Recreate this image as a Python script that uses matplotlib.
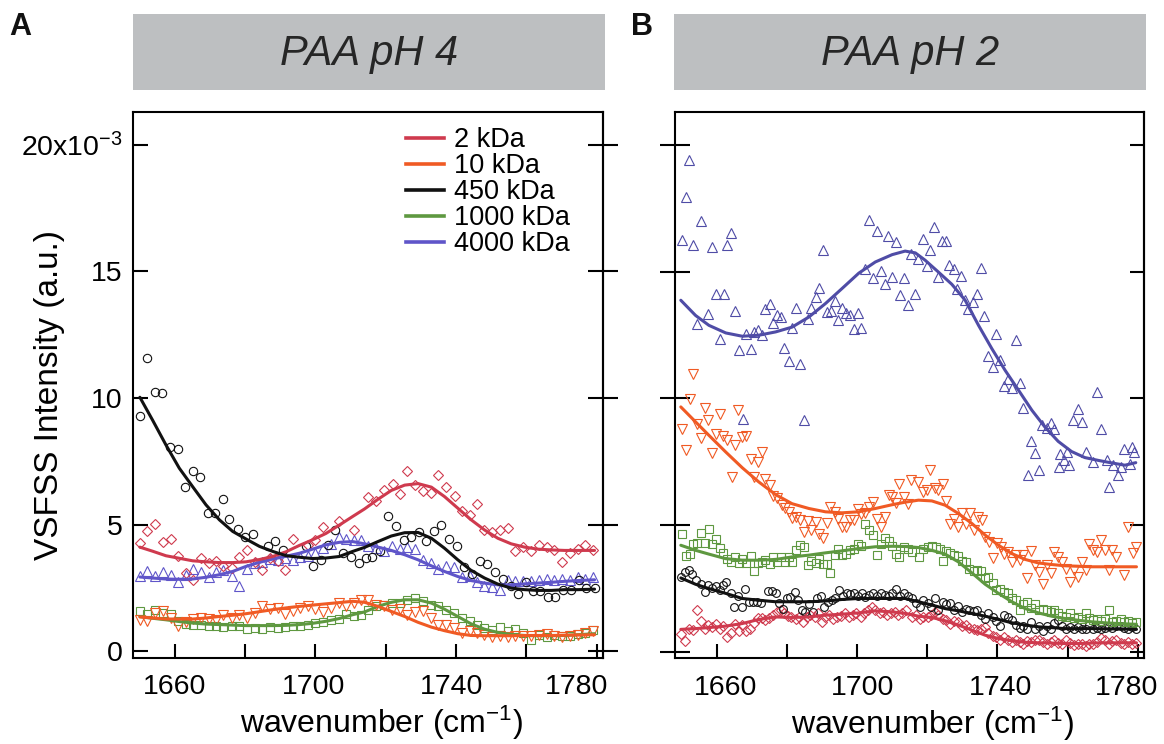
import matplotlib
matplotlib.use("Agg")
import matplotlib.pyplot as plt
import matplotlib.transforms as mtransforms
from matplotlib.patches import Rectangle
from matplotlib.lines import Line2D

plt.rcParams['font.family'] = ['Liberation Sans', 'DejaVu Sans']
plt.rcParams['mathtext.default'] = 'regular'

# ---------------- labels ----------------
panel_titles = ["PAA pH 4", "PAA pH 2"]
panel_letters = ["A", "B"]
series_labels = ["2 kDa", "10 kDa", "450 kDa", "1000 kDa", "4000 kDa"]
x_ticks = [1660, 1700, 1740, 1780]
x_minor_ticks = [1680, 1720, 1760]
y_ticks = [0, 5, 10, 15, 20]
y_tick_labels = ["0", "5", "10", "15", r"20x10$^{-3}$"]

# ---------------- Panel A (pH 4), intensity in units of 1e-3 ----------------
a_wn = [1650.1, 1652.2, 1654.3, 1656.6, 1658.9, 1660.9, 1663.2, 1665.3, 1667.5, 1669.7,
        1671.8, 1673.8, 1676.2, 1678.4, 1680.5, 1682.7, 1684.8, 1687.1, 1689.3, 1691.5,
        1693.6, 1695.7, 1697.8, 1700.0, 1702.3, 1704.5, 1706.6, 1708.7, 1710.9, 1713.1,
        1715.1, 1717.3, 1719.5, 1721.8, 1724.0, 1726.1, 1728.4, 1730.6, 1732.8, 1735.0,
        1737.2, 1739.4, 1741.7, 1743.9, 1746.0, 1748.1, 1750.3, 1752.5, 1754.8, 1756.8,
        1759.1, 1761.4, 1763.5, 1765.8, 1768.0, 1770.2, 1772.4, 1774.7, 1776.8, 1779.0]

a_2k_wn = [1650.1, 1652.2, 1654.3, 1656.6, 1658.9, 1660.9, 1663.2, 1665.3, 1667.5, 1669.7,
           1671.8, 1673.8, 1676.2, 1678.4, 1680.5, 1682.7, 1684.8, 1687.1, 1689.3, 1691.5,
           1693.6, 1697.8, 1700.0, 1702.3, 1706.6, 1710.9, 1715.1, 1717.3, 1719.5, 1722.1,
           1724.2, 1726.1, 1728.4, 1730.6, 1732.8, 1735.0, 1737.2, 1739.6, 1741.7, 1743.9,
           1746.0, 1748.1, 1750.3, 1752.5, 1754.9, 1756.8, 1759.1, 1761.4, 1763.5, 1765.8,
           1768.0, 1770.2, 1772.4, 1774.7, 1776.8, 1779.0]
a_2k = [4.29, 4.73, 5.03, 4.33, 4.42, 3.77, 3.08, 2.82, 3.68, 3.50,
        3.58, 3.35, 3.28, 3.71, 3.98, 3.54, 3.22, 3.68, 3.58, 3.22,
        4.42, 4.20, 4.40, 4.92, 5.16, 4.79, 6.11, 5.94, 6.37, 6.61,
        6.21, 7.12, 6.57, 6.31, 6.24, 6.96, 6.50, 6.13, 5.52, 5.36,
        5.81, 4.79, 4.70, 4.79, 4.86, 3.94, 4.11, 3.94, 4.20, 4.11,
        3.98, 3.54, 3.87, 4.03, 4.20, 4.00]

a_450k_wn = [1650.1, 1652.2, 1654.3, 1656.4, 1658.7, 1660.9, 1662.9, 1665.2, 1667.3, 1669.4,
             1671.6, 1673.6, 1675.5, 1677.9, 1680.0, 1682.2, 1686.4, 1688.6, 1690.8, 1697.3,
             1699.3, 1701.5, 1703.6, 1705.7, 1707.8, 1710.1, 1712.3, 1714.4, 1716.1, 1718.5,
             1720.6, 1723.0, 1725.2, 1727.3, 1729.5, 1731.5, 1733.7, 1735.8, 1738.0, 1740.2,
             1742.2, 1744.5, 1746.7, 1748.9, 1751.2, 1753.3, 1755.5, 1757.6, 1759.8, 1761.9,
             1764.0, 1766.1, 1768.2, 1770.5, 1772.8, 1774.9, 1777.0, 1779.4]
a_450k = [9.29, 11.60, 10.22, 10.18, 8.05, 7.98, 6.48, 7.13, 6.90, 5.45,
          5.45, 6.00, 5.23, 4.82, 4.50, 4.64, 4.14, 4.37, 4.00, 4.14,
          3.37, 3.61, 4.20, 4.79, 3.87, 3.74, 3.50, 3.68, 3.74, 3.94,
          5.35, 4.95, 4.40, 4.53, 4.69, 4.36, 4.75, 4.98, 4.42, 4.14,
          3.31, 3.04, 3.58, 3.45, 3.11, 2.85, 2.56, 2.27, 2.75, 2.36,
          2.36, 2.14, 2.14, 2.40, 2.43, 2.82, 2.49, 2.49]

a_10k = [1.24, 1.18, 1.51, 1.57, 1.31, 1.01, 1.14, 1.27, 1.31, 1.27,
         1.24, 1.44, 1.31, 1.44, 1.31, 1.51, 1.77, 1.66, 1.70, 1.48,
         1.57, 1.70, 1.77, 1.66, 1.53, 1.70, 1.90, 1.77, 1.90, 2.03,
         2.03, 1.83, 1.77, 1.61, 1.66, 1.44, 1.53, 1.57, 1.31, 1.05,
         1.05, 0.91, 0.72, 0.78, 0.72, 0.65, 0.55, 0.59, 0.55, 0.59,
         0.61, 0.59, 0.65, 0.69, 0.59, 0.55, 0.59, 0.65, 0.72, 0.78]

a_1000k = [1.57, 1.48, 1.61, 1.51, 1.48, 1.18, 1.08, 1.05, 1.05, 0.98,
           1.01, 0.95, 1.01, 0.98, 0.87, 0.91, 0.87, 0.95, 0.91, 0.95,
           0.98, 1.01, 1.05, 1.11, 1.14, 1.22, 1.27, 1.48, 1.37, 1.44,
           1.64, 1.77, 1.83, 1.90, 1.90, 2.03, 2.10, 1.97, 1.83, 1.77,
           1.61, 1.51, 1.31, 1.18, 1.05, 0.91, 0.85, 0.95, 0.78, 0.87,
           0.72, 0.45, 0.65, 0.55, 0.65, 0.61, 0.59, 0.69, 0.72, 0.82]

a_4000k = [2.98, 3.15, 2.98, 3.11, 3.02, 2.73, 3.02, 3.24, 3.11, 2.93,
           3.12, 3.22, 2.98, 2.58, 3.24, 3.48, 3.54, 3.64, 3.61, 3.68,
           3.61, 3.74, 3.77, 3.87, 4.07, 4.24, 4.50, 4.44, 4.40, 4.40,
           4.17, 4.07, 3.94, 4.14, 4.03, 4.11, 4.03, 3.61, 3.50, 3.24,
           3.35, 3.32, 2.93, 2.98, 2.72, 2.58, 2.53, 2.40, 2.82, 2.76,
           2.76, 2.79, 2.82, 2.85, 2.82, 2.85, 2.82, 2.93, 2.85, 2.93]

# fitted curves, panel A
a_fit_wn = [1650.1, 1653.7, 1657.5, 1661.3, 1665.1, 1668.9, 1672.7, 1676.5, 1680.3, 1684.1,
            1687.9, 1691.7, 1695.5, 1699.2, 1703.0, 1706.8, 1710.6, 1714.0, 1717.8, 1721.6,
            1725.4, 1729.2, 1733.0, 1736.7, 1740.5, 1744.3, 1748.1, 1751.9, 1755.7, 1759.5,
            1763.3, 1767.1, 1770.9, 1774.7, 1779.4]
a_fit_2k = [4.11, 3.95, 3.77, 3.67, 3.57, 3.53, 3.50, 3.50, 3.53, 3.62,
            3.74, 3.93, 4.18, 4.40, 4.65, 4.98, 5.32, 5.62, 6.00, 6.35,
            6.56, 6.62, 6.48, 6.11, 5.65, 5.19, 4.79, 4.46, 4.24, 4.11,
            4.03, 4.00, 3.98, 3.98, 3.98]
a_fit_10k = [1.35, 1.31, 1.27, 1.27, 1.27, 1.31, 1.37, 1.42, 1.48, 1.56,
             1.64, 1.71, 1.77, 1.82, 1.87, 1.92, 1.97, 1.93, 1.77, 1.57,
             1.37, 1.14, 0.95, 0.81, 0.69, 0.62, 0.61, 0.61, 0.61, 0.62,
             0.62, 0.62, 0.63, 0.64, 0.65]
a_fit_450k = [10.03, 9.13, 8.15, 7.23, 6.50, 5.78, 5.19, 4.73, 4.43, 4.14,
              3.94, 3.77, 3.71, 3.66, 3.68, 3.74, 3.94, 4.10, 4.33, 4.55,
              4.68, 4.69, 4.46, 4.07, 3.61, 3.19, 2.89, 2.65, 2.49, 2.43,
              2.40, 2.40, 2.43, 2.43, 2.45]
a_fit_1000k = [1.37, 1.30, 1.24, 1.17, 1.11, 1.07, 1.05, 1.03, 1.01, 1.01,
               1.01, 1.02, 1.05, 1.10, 1.18, 1.29, 1.44, 1.55, 1.77, 1.93,
               2.03, 2.03, 1.90, 1.66, 1.37, 1.08, 0.87, 0.74, 0.66, 0.62,
               0.61, 0.61, 0.62, 0.65, 0.69]
a_fit_4000k = [2.93, 2.89, 2.85, 2.84, 2.85, 2.92, 3.02, 3.15, 3.35, 3.51,
               3.64, 3.75, 3.87, 4.03, 4.20, 4.30, 4.33, 4.24, 4.11, 3.98,
               3.81, 3.61, 3.37, 3.15, 2.95, 2.79, 2.69, 2.62, 2.62, 2.66,
               2.69, 2.72, 2.76, 2.79, 2.82]

# ---------------- Panel B (pH 2) ----------------
b_left_wn = [1649.8, 1651.0, 1652.1, 1653.3, 1654.4, 1655.5, 1656.6, 1657.6, 1658.8, 1659.9,
             1660.9, 1661.9, 1663.0, 1664.1, 1665.2, 1666.3, 1667.3, 1668.4, 1669.4, 1670.6,
             1671.8, 1672.8, 1673.9, 1674.9, 1676.0, 1677.1, 1678.2, 1679.3, 1680.3, 1681.3,
             1682.5, 1683.6, 1684.6, 1685.8, 1686.7, 1687.9, 1688.9, 1690.1, 1691.0, 1692.1,
             1693.2, 1694.3, 1695.5, 1696.5, 1697.6, 1698.8, 1699.8, 1701.0, 1702.1, 1703.2,
             1704.3, 1705.2, 1706.4, 1707.4, 1708.5, 1709.7, 1710.7, 1711.8, 1712.9, 1714.0]
b_right_wn = [1715.6, 1716.8, 1717.8, 1718.9, 1720.1, 1721.1, 1722.3, 1723.2, 1724.4, 1725.4,
              1726.5, 1727.7, 1728.7, 1729.9, 1731.0, 1732.0, 1733.2, 1734.3, 1735.4, 1736.5,
              1737.4, 1738.6, 1739.6, 1740.8, 1741.9, 1742.9, 1744.1, 1745.2, 1746.3, 1747.4,
              1748.3, 1749.6, 1750.7, 1751.8, 1752.9, 1754.0, 1755.2, 1756.2, 1757.3, 1758.5,
              1759.5, 1760.7, 1761.8, 1762.8, 1764.0, 1765.1, 1766.2, 1767.3, 1768.4, 1769.5,
              1770.6, 1771.7, 1772.7, 1773.9, 1775.1, 1776.1, 1777.2, 1778.4, 1779.4]

b_2k = [0.69, 0.43, 0.91, 0.87, 1.64, 1.22, 0.91, 1.05, 0.98, 1.08,
        0.91, 1.01, 0.59, 0.74, 1.08, 0.82, 1.05, 0.82, 0.91, 1.14,
        1.31, 1.31, 1.24, 1.31, 1.44, 1.57, 1.66, 1.51, 1.40, 1.35,
        1.27, 1.37, 1.18, 1.35, 1.44, 1.35, 1.51, 1.18, 1.35, 1.44,
        1.27, 1.35, 1.40, 1.51, 1.35, 1.44, 1.51, 1.37, 1.53, 1.64,
        1.77, 1.66, 1.51, 1.57, 1.44, 1.51, 1.57, 1.44, 1.51, 1.64,
        1.35, 1.44, 1.27, 1.35, 1.37, 1.44, 1.57, 1.44, 1.27, 1.24,
        1.11, 1.22, 1.18, 1.01, 1.05, 0.95, 0.91, 0.85, 0.88, 0.98,
        0.72, 0.61, 0.59, 0.45, 0.56, 0.48, 0.39, 0.45, 0.39, 0.32,
        0.43, 0.39, 0.45, 0.48, 0.39, 0.32, 0.39, 0.45, 0.35, 0.32,
        0.45, 0.35, 0.26, 0.30, 0.32, 0.22, 0.32, 0.30, 0.39, 0.52,
        0.45, 0.32, 0.43, 0.45, 0.35, 0.32, 0.39, 0.32, 0.35]

b_450k_wn = [1649.8, 1651.0, 1652.1, 1653.1, 1654.2, 1655.5, 1656.6, 1657.6, 1658.8, 1659.7,
             1660.9, 1661.9, 1662.8, 1664.0, 1665.0, 1666.2, 1667.1, 1668.2, 1669.2, 1670.3,
             1671.4, 1672.5, 1674.7, 1675.8, 1676.8, 1677.9, 1679.0, 1680.1, 1681.0, 1682.2,
             1683.2, 1684.4, 1685.3, 1686.4, 1687.5, 1688.6, 1689.6, 1690.7, 1691.8, 1692.9,
             1693.8, 1694.9, 1696.0, 1697.2, 1698.1, 1699.2, 1700.3, 1701.4, 1702.4, 1703.5,
             1704.5, 1705.7, 1706.8, 1707.9, 1709.0, 1710.0, 1711.1, 1712.1, 1713.3, 1714.4]
b_450k = [2.95, 3.15, 3.22, 3.08, 2.82, 2.66, 2.36, 2.62, 2.53, 2.58,
          2.45, 2.62, 2.75, 2.30, 1.77, 2.18, 1.77, 2.49, 1.97, 1.97,
          1.97, 1.93, 2.40, 2.40, 2.30, 1.93, 1.70, 2.10, 2.16, 2.36,
          2.03, 1.64, 1.57, 1.90, 1.57, 2.10, 2.19, 1.77, 1.97, 2.03,
          2.10, 2.43, 2.19, 2.32, 2.27, 2.30, 2.19, 2.30, 2.16, 2.23,
          2.32, 2.19, 2.30, 2.23, 2.19, 2.30, 2.49, 2.19, 2.30, 2.19,
          2.10, 1.93, 1.77, 2.03, 1.93, 1.77, 2.10, 1.64, 1.97, 1.90,
          1.93, 1.64, 1.80, 1.57, 1.70, 1.66, 1.61, 1.64, 1.44, 1.27,
          1.51, 1.35, 1.22, 1.01, 1.44, 1.35, 1.24, 1.05, 0.95, 1.01,
          0.91, 1.18, 0.91, 1.01, 0.82, 1.01, 0.88, 1.14, 1.24, 1.01,
          0.88, 0.98, 0.88, 0.98, 0.91, 0.88, 1.05, 0.88, 0.95, 0.88,
          0.95, 1.01, 0.95, 1.01, 1.01, 0.95, 0.88, 0.98, 0.91]

b_1000k_wn = [1650.0, 1651.2, 1652.3, 1653.4, 1654.5, 1655.6, 1656.6, 1657.7, 1658.8, 1659.8,
              1660.9, 1661.9, 1663.0, 1664.1, 1665.2, 1666.3, 1667.3, 1668.4, 1669.7, 1670.7,
              1671.8, 1672.8, 1673.9, 1675.1, 1676.1, 1677.3, 1678.4, 1679.4, 1680.6, 1681.5,
              1682.7, 1683.7, 1684.8, 1686.0, 1687.0, 1688.2, 1689.1, 1690.2, 1691.5, 1692.4,
              1693.6, 1694.7, 1695.7, 1696.9, 1697.9, 1699.1, 1700.2, 1701.2, 1702.4, 1703.5,
              1704.5, 1705.7, 1706.8, 1707.9, 1709.0, 1710.0, 1711.1, 1712.0, 1713.3, 1714.4,
              1715.6, 1717.7, 1718.9, 1720.2, 1721.3, 1722.5, 1723.5, 1724.4, 1725.4, 1726.5,
              1727.7, 1728.7, 1729.9, 1731.0, 1732.0, 1733.2, 1734.3, 1735.4, 1736.5, 1737.4,
              1738.6, 1739.6, 1740.8, 1741.9, 1742.9, 1744.1, 1745.2, 1746.3, 1747.4, 1748.3,
              1749.6, 1750.7, 1751.8, 1752.9, 1754.0, 1755.2, 1756.2, 1757.3, 1758.5, 1759.5,
              1760.7, 1761.8, 1762.8, 1764.0, 1765.1, 1766.2, 1767.3, 1768.4, 1769.5, 1770.6,
              1771.7, 1772.7, 1773.9, 1775.1, 1776.1, 1777.2, 1778.4, 1779.4]
b_1000k = [4.63, 3.78, 3.85, 4.23, 4.27, 4.69, 4.29, 4.86, 4.24, 4.44,
           4.11, 3.91, 3.67, 3.54, 3.74, 3.50, 3.67, 3.48, 3.78, 3.19,
           3.48, 3.54, 3.61, 3.45, 3.74, 3.54, 3.74, 3.54, 3.74, 3.54,
           4.00, 4.20, 4.14, 3.41, 3.57, 3.48, 3.67, 3.45, 3.45, 3.11,
           3.81, 4.07, 3.81, 3.85, 4.03, 4.07, 4.24, 4.16, 5.03, 4.79,
           4.60, 3.81, 4.24, 4.50, 4.36, 4.16, 3.87, 3.74, 4.14, 4.07,
           3.94, 3.74, 4.07, 4.14, 4.16, 4.14, 4.07, 3.58, 3.98, 3.90,
           3.81, 3.77, 3.58, 3.54, 3.28, 3.19, 3.24, 3.19, 2.89, 2.95,
           2.72, 2.43, 2.49, 2.36, 2.30, 2.10, 2.03, 1.66, 1.90, 1.97,
           1.73, 1.90, 1.64, 1.70, 1.66, 1.57, 1.64, 1.51, 1.40, 1.37,
           1.51, 1.31, 1.35, 1.27, 1.51, 1.31, 1.24, 1.27, 1.22, 1.27,
           1.66, 1.18, 1.22, 1.27, 1.18, 1.22, 1.14, 1.18]

b_10k_wn = [1650.0, 1651.2, 1652.3, 1653.3, 1654.5, 1655.5, 1656.6, 1657.6, 1658.8, 1659.7,
            1660.9, 1661.9, 1663.0, 1664.3, 1665.2, 1666.2, 1667.3, 1668.4, 1669.7, 1670.6,
            1671.8, 1672.8, 1673.9, 1675.1, 1676.1, 1677.3, 1678.5, 1679.4, 1680.6, 1681.5,
            1682.7, 1683.7, 1684.8, 1686.0, 1687.0, 1688.2, 1689.1, 1690.2, 1691.5, 1692.4,
            1693.6, 1694.6, 1695.7, 1696.9, 1698.1, 1699.1, 1700.2, 1701.2, 1702.4, 1703.5,
            1704.5, 1705.7, 1706.8, 1707.9, 1709.0, 1710.0, 1711.1, 1712.0, 1713.3, 1714.4,
            1715.5, 1717.5, 1718.7, 1719.8, 1720.9, 1722.1, 1723.2, 1724.4, 1725.4, 1726.5,
            1727.6, 1728.7, 1729.9, 1731.0, 1732.1, 1733.2, 1734.4, 1735.5, 1736.5, 1737.6,
            1738.7, 1739.8, 1740.9, 1742.0, 1743.1, 1744.1, 1745.2, 1746.3, 1747.4, 1748.3,
            1749.5, 1750.7, 1751.8, 1752.9, 1754.0, 1755.2, 1756.2, 1757.3, 1758.5, 1759.5,
            1760.7, 1761.8, 1762.8, 1764.0, 1765.1, 1766.2, 1767.3, 1768.4, 1769.5, 1770.6,
            1771.7, 1772.7, 1773.9, 1776.1, 1777.2, 1778.5, 1779.4]
b_10k = [8.80, 7.97, 9.99, 10.97, 9.00, 8.43, 9.61, 9.13, 7.84, 8.60,
         9.39, 8.53, 8.34, 6.90, 8.15, 9.53, 8.47, 8.51, 7.62, 6.90,
         7.49, 7.88, 6.80, 6.57, 6.13, 6.08, 5.78, 5.67, 5.52, 5.28,
         5.32, 5.19, 4.73, 5.16, 4.79, 5.10, 4.64, 4.50, 5.06, 5.71,
         5.52, 5.25, 4.92, 4.92, 5.21, 5.19, 5.65, 5.45, 5.48, 5.71,
         5.91, 5.25, 4.92, 5.32, 6.17, 6.11, 5.87, 6.61, 6.11, 5.84,
         6.79, 6.70, 6.31, 6.40, 7.16, 6.44, 6.37, 6.61, 5.95, 5.03,
         5.25, 4.92, 5.48, 5.03, 5.48, 4.82, 5.32, 5.21, 4.53, 4.33,
         3.68, 4.27, 4.14, 3.87, 3.94, 3.54, 3.81, 3.61, 3.81, 2.89,
         3.98, 3.41, 3.15, 2.66, 3.41, 3.11, 3.94, 3.74, 3.54, 3.28,
         2.76, 3.24, 2.95, 3.54, 3.22, 4.23, 4.00, 3.94, 4.42, 4.00,
         3.22, 4.00, 3.74, 3.02, 4.92, 3.90, 4.14]

b_4000k_wn = [1650.0, 1651.2, 1652.1, 1653.3, 1654.4, 1655.5, 1657.5, 1658.8, 1659.7, 1660.9,
              1662.0, 1663.0, 1664.2, 1665.2, 1666.4, 1667.5, 1668.4, 1669.7, 1670.7, 1671.8,
              1672.8, 1673.9, 1675.1, 1676.1, 1677.3, 1678.4, 1679.3, 1680.6, 1681.5, 1682.7,
              1683.8, 1684.8, 1686.0, 1687.0, 1688.2, 1689.3, 1690.3, 1691.5, 1692.6, 1693.7,
              1694.7, 1695.7, 1696.9, 1697.9, 1699.1, 1700.2, 1701.2, 1702.4, 1703.3, 1704.5,
              1705.6, 1706.7, 1707.9, 1708.8, 1710.0, 1711.1, 1712.3, 1713.4, 1714.4, 1715.5,
              1716.4, 1717.5, 1718.7, 1719.8, 1720.8, 1722.0, 1723.0, 1724.2, 1725.3, 1726.3,
              1727.5, 1728.6, 1729.7, 1730.8, 1731.7, 1733.1, 1734.1, 1735.3, 1736.3, 1737.4,
              1738.6, 1739.6, 1740.8, 1741.9, 1742.9, 1744.1, 1745.2, 1746.3, 1747.4, 1748.7,
              1749.6, 1750.7, 1751.8, 1752.8, 1754.0, 1755.3, 1756.2, 1757.4, 1757.9, 1758.9,
              1759.7, 1760.5, 1761.6, 1762.8, 1764.0, 1765.1, 1767.2, 1768.3, 1769.5, 1771.3,
              1771.7, 1772.8, 1774.3, 1775.3, 1776.1, 1777.8, 1778.2, 1779.0]
b_4000k = [16.23, 17.94, 19.41, 16.06, 12.95, 17.00, 13.34, 15.97, 14.13, 12.33,
           14.13, 16.07, 16.53, 13.43, 11.92, 9.20, 12.55, 11.93, 12.61, 12.71,
           12.49, 13.51, 13.71, 12.97, 13.30, 13.21, 12.00, 11.46, 12.78, 13.56,
           11.37, 9.13, 13.14, 13.58, 14.00, 14.35, 15.84, 13.41, 13.43, 13.84,
           13.10, 13.58, 13.38, 13.28, 12.72, 13.38, 12.78, 15.12, 17.05, 14.75,
           16.60, 15.01, 14.52, 16.39, 14.79, 16.17, 14.09, 14.75, 13.67, 15.71,
           14.13, 15.51, 16.29, 15.21, 15.84, 16.76, 14.79, 16.21, 16.21, 15.25,
           15.12, 14.30, 14.81, 13.87, 13.54, 13.80, 14.13, 15.15, 13.25, 11.66,
           11.24, 12.53, 11.50, 10.49, 10.78, 10.42, 12.32, 10.62, 9.62, 6.96,
           8.32, 7.86, 7.16, 8.93, 8.84, 9.03, 8.80, 7.29, 7.82, 7.55,
           7.88, 7.36, 9.13, 9.59, 9.07, 7.88, 7.49, 10.25, 8.77, 7.58,
           6.50, 7.36, 6.96, 7.29, 8.01, 7.42, 8.08, 7.88]

# fitted curves, panel B
b_fit_wn = [1649.8, 1654.0, 1657.8, 1662.6, 1667.3, 1672.0, 1676.8, 1681.5, 1686.3, 1691.0,
            1695.7, 1700.5, 1705.2, 1710.0, 1713.7, 1717.5, 1721.3, 1725.1, 1728.9, 1732.7,
            1736.5, 1740.3, 1744.1, 1747.9, 1751.7, 1755.4, 1759.2, 1763.0, 1766.8, 1770.6,
            1774.4, 1779.6]
b_fit_2k = [0.88, 0.91, 0.95, 1.01, 1.11, 1.27, 1.37, 1.35, 1.37, 1.44,
            1.48, 1.53, 1.61, 1.57, 1.51, 1.40, 1.35, 1.22, 1.05, 0.85,
            0.65, 0.52, 0.43, 0.37, 0.35, 0.34, 0.32, 0.32, 0.34, 0.35,
            0.35, 0.35]
b_fit_10k = [9.66, 9.07, 8.54, 7.88, 7.26, 6.70, 6.20, 5.84, 5.65, 5.52,
             5.48, 5.52, 5.65, 5.80, 5.90, 5.98, 5.95, 5.78, 5.45, 5.06,
             4.60, 4.20, 3.87, 3.64, 3.50, 3.44, 3.39, 3.37, 3.35, 3.35,
             3.35, 3.35]
b_fit_450k = [2.91, 2.66, 2.49, 2.30, 2.10, 2.03, 1.97, 1.97, 1.97, 2.00,
              2.06, 2.10, 2.10, 2.10, 2.10, 1.97, 1.84, 1.70, 1.61, 1.51,
              1.40, 1.27, 1.14, 1.05, 0.98, 0.95, 0.91, 0.91, 0.91, 0.90,
              0.90, 0.88]
b_fit_1000k = [4.20, 4.00, 3.85, 3.67, 3.61, 3.61, 3.64, 3.74, 3.81, 3.90,
               3.98, 4.07, 4.14, 4.16, 4.15, 4.11, 4.00, 3.85, 3.54, 3.11,
               2.66, 2.30, 1.97, 1.70, 1.53, 1.40, 1.31, 1.24, 1.18, 1.14,
               1.11, 1.08]
b_fit4000_wn = [1649.8, 1654.0, 1657.8, 1662.6, 1667.3, 1672.0, 1676.8, 1681.5, 1686.3, 1691.0,
                1695.7, 1700.5, 1705.2, 1710.0, 1713.7, 1716.6, 1719.4, 1723.2, 1727.0, 1730.8,
                1734.6, 1738.4, 1742.2, 1746.0, 1749.8, 1753.5, 1757.3, 1761.1, 1764.9, 1768.7,
                1772.5, 1776.3, 1779.4]
b_fit_4000k = [13.87, 13.27, 12.88, 12.58, 12.45, 12.49, 12.62, 12.81, 13.21, 13.74,
               14.33, 14.94, 15.38, 15.67, 15.81, 15.74, 15.45, 14.98, 14.50, 13.87,
               12.88, 11.96, 11.10, 10.32, 9.53, 8.87, 8.30, 7.90, 7.66, 7.55,
               7.45, 7.36, 7.46]

# ---------------- styles ----------------
col_2k = '#cf3a4e'
col_10k = '#f05a24'
col_450k = '#111111'
col_1000k = '#5e9840'
col_4000k_a = '#5f55c9'
col_4000k_b = '#4f4ca6'

W, H = 1164, 744
fig = plt.figure(figsize=(W / 100, H / 100), dpi=100)

axA = fig.add_axes([132.5 / W, 1 - 657.5 / H, 470.5 / W, 545.5 / H])
axB = fig.add_axes([674.5 / W, 1 - 658.0 / H, 469.7 / W, 546.0 / H])

fit_lw = 2.2
mew = 0.8


def pts(ax, x, y, m, c, ms):
    ax.plot(x, y, linestyle='none', marker=m, markersize=ms, markerfacecolor='none',
            markeredgecolor=c, markeredgewidth=mew, zorder=2)


def fit(ax, x, y, c):
    ax.plot(x, y, color=c, lw=fit_lw, zorder=3, solid_capstyle='round')


# Panel A
pts(axA, a_wn, a_1000k, 's', col_1000k, 6)
pts(axA, a_wn, a_10k, 'v', col_10k, 7)
pts(axA, a_wn, a_4000k, '^', col_4000k_a, 7)
pts(axA, a_2k_wn, a_2k, 'D', col_2k, 5.5)
pts(axA, a_450k_wn, a_450k, 'o', col_450k, 6)
fit(axA, a_fit_wn, a_fit_1000k, col_1000k)
fit(axA, a_fit_wn, a_fit_10k, col_10k)
fit(axA, a_fit_wn, a_fit_4000k, col_4000k_a)
fit(axA, a_fit_wn, a_fit_2k, col_2k)
fit(axA, a_fit_wn, a_fit_450k, col_450k)

# Panel B
pts(axB, b_left_wn + b_right_wn, b_2k, 'D', col_2k, 4.8)
pts(axB, b_450k_wn + b_right_wn, b_450k, 'o', col_450k, 5.6)
pts(axB, b_1000k_wn, b_1000k, 's', col_1000k, 5.6)
pts(axB, b_10k_wn, b_10k, 'v', col_10k, 6.5)
pts(axB, b_4000k_wn, b_4000k, '^', col_4000k_b, 6.5)
fit(axB, b_fit_wn, b_fit_2k, col_2k)
fit(axB, b_fit_wn, b_fit_450k, col_450k)
fit(axB, b_fit_wn, b_fit_1000k, col_1000k)
fit(axB, b_fit_wn, b_fit_10k, col_10k)
fit(axB, b_fit4000_wn, b_fit_4000k, col_4000k_b)

label_shift_px = [[0, -2, -4, -20], [9, 6, 3, -11]]
xlabel_center = [0.53, 0.55]

for i, ax in enumerate([axA, axB]):
    ax.set_xlim(1648.0, 1781.8)
    ax.set_ylim(-0.25, 21.3)
    for s in ax.spines.values():
        s.set_linewidth(1.5)
    ax.set_xticks(x_ticks)
    ax.set_xticks(x_minor_ticks, minor=True)
    ax.tick_params(axis='x', which='both', direction='in', length=10, width=1.5,
                   top=False, bottom=True, labelsize=20.5, pad=12)
    ax.set_yticks(y_ticks)
    ax.set_xlabel(r'wavenumber (cm$^{-1}$)', fontsize=23)
    ax.xaxis.label.set_va('baseline')
    ax.xaxis.set_label_coords(xlabel_center[i], -(733 - 657.5) / 545.5)
    sec = ax.secondary_yaxis('right')
    sec.set_yticks(y_ticks)
    sec.tick_params(labelright=False, width=1.5)
    sec.spines['right'].set_linewidth(1.5)
    if i == 0:
        ax.set_yticklabels(y_tick_labels)
        ax.tick_params(axis='y', which='both', direction='in', length=11, width=1.5,
                       left=True, right=False, labelsize=20.5, pad=7)
        sec.tick_params(direction='inout', length=21)
    else:
        ax.tick_params(axis='y', which='both', direction='inout', length=21, width=1.5,
                       left=True, right=False, labelleft=False)
        sec.tick_params(direction='in', length=10)
    for lab, dx in zip(ax.get_xticklabels(), label_shift_px[i]):
        lab.set_transform(lab.get_transform() +
                          mtransforms.ScaledTranslation(dx / 100, 0, fig.dpi_scale_trans))

axA.set_ylabel('VSFSS Intensity (a.u.)', fontsize=24)
axA.yaxis.set_label_coords(-0.143, 0.481)

# legend (panel A)
handles = [Line2D([], [], color=c, lw=2.6) for c in
           [col_2k, col_10k, col_450k, col_1000k, col_4000k_a]]
axA.legend(handles, series_labels, loc='upper left', bbox_to_anchor=(406 / W, 1 - 127 / H),
           bbox_transform=fig.transFigure, frameon=False, fontsize=19.5,
           handlelength=1.4, handletextpad=0.37, labelspacing=0.0, borderpad=0,
           borderaxespad=0)

# header boxes
header_x = [133 / W, 674 / W]
for hx, title, letter, lx in zip(header_x, panel_titles, panel_letters, [9 / W, 631 / W]):
    fig.add_artist(Rectangle((hx, 1 - 90 / H), 472 / W, 76 / H, transform=fig.transFigure,
                             facecolor='#bdbfc1', edgecolor='none'))
    fig.text(hx + 236 / W, 1 - 65 / H, title, fontsize=30, style='italic',
             ha='center', va='baseline', color='#262626')
    fig.text(lx, 1 - 35 / H, letter, fontsize=22, fontweight='bold', ha='left',
             va='baseline', color='#111111')

fig.savefig('out.png', dpi=100)
